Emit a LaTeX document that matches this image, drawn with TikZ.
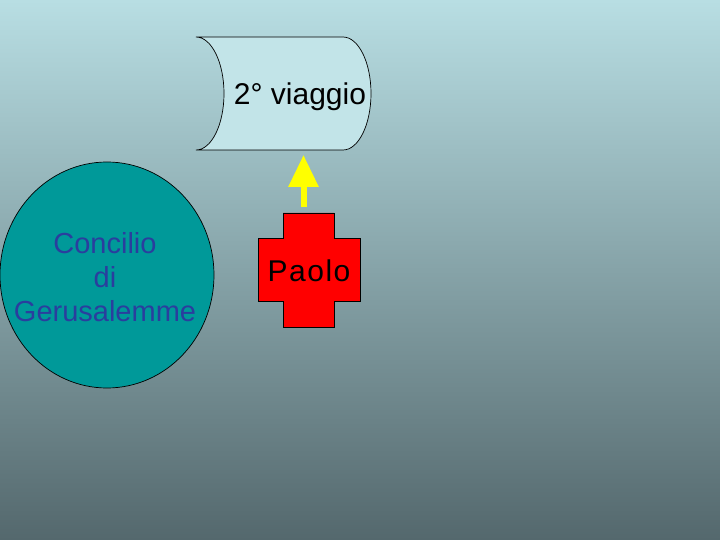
\documentclass[tikz,border=0pt]{standalone}
\usepackage{fontspec}
\setmainfont{Liberation Sans}
\newfontfamily\spacedfont[LetterSpace=5]{Liberation Sans}
\usetikzlibrary{arrows.meta,shapes.geometric}
\definecolor{bgtop}{RGB}{184,222,227}
\definecolor{bgbot}{RGB}{84,104,109}
\definecolor{storefill}{RGB}{194,228,232}
\definecolor{tealfill}{RGB}{0,153,153}
\definecolor{conctext}{RGB}{42,62,158}
\definecolor{arrowyellow}{RGB}{255,255,0}
\tikzset{
  outline/.style={draw=black, line width=0.7pt},
  bigtext/.style={font=\fontsize{30}{34}\selectfont, inner sep=0pt},
  conctextstyle/.style={font=\fontsize{29}{34}\selectfont, inner sep=0pt, text=conctext, align=center},
  yarrow/.style={draw=arrowyellow, line width=6pt, -{Triangle[length=32pt,width=29pt]}, fill=arrowyellow},
}
\begin{document}
\begin{tikzpicture}[x=1pt,y=-1pt]
\shade[top color=bgtop, bottom color=bgbot] (0,0) rectangle (720,540);
\useasboundingbox (0,0) rectangle (720,540);
% stored-data shape
\path[outline, fill=storefill] (196,37) -- (343,37)
  arc[start angle=90, end angle=-90, x radius=28, y radius=-56.5]
  -- (196,150)
  arc[start angle=-90, end angle=90, x radius=28, y radius=-56.5] -- cycle;
\node[bigtext, text=black] (store) at (300,97) {2° viaggio};
\coordinate (storebottom) at (303.5,150);
% circle
\node[ellipse, outline, fill=tealfill, minimum width=214pt, minimum height=226pt, inner sep=0pt] (concilio) at (107,275) {};
\node[conctextstyle] (conciliotext) at (105,277) {Concilio\\di\\Gerusalemme};
% cross
\path[outline, fill=red] (283,213) -- (334,213) -- (334,238) -- (360,238) -- (360,301) -- (334,301) -- (334,327) -- (283,327) -- (283,301) -- (258,301) -- (258,238) -- (283,238) -- cycle;
\node[font=\spacedfont\fontsize{30}{34}\selectfont, inner sep=0pt] (paolo) at (309,271) {Paolo};
\coordinate (crosstop) at (303.5,213);
% arrow
\draw[yarrow, shorten <=6pt, shorten >=5pt] (crosstop) -- (storebottom);
\end{tikzpicture}
\end{document}
